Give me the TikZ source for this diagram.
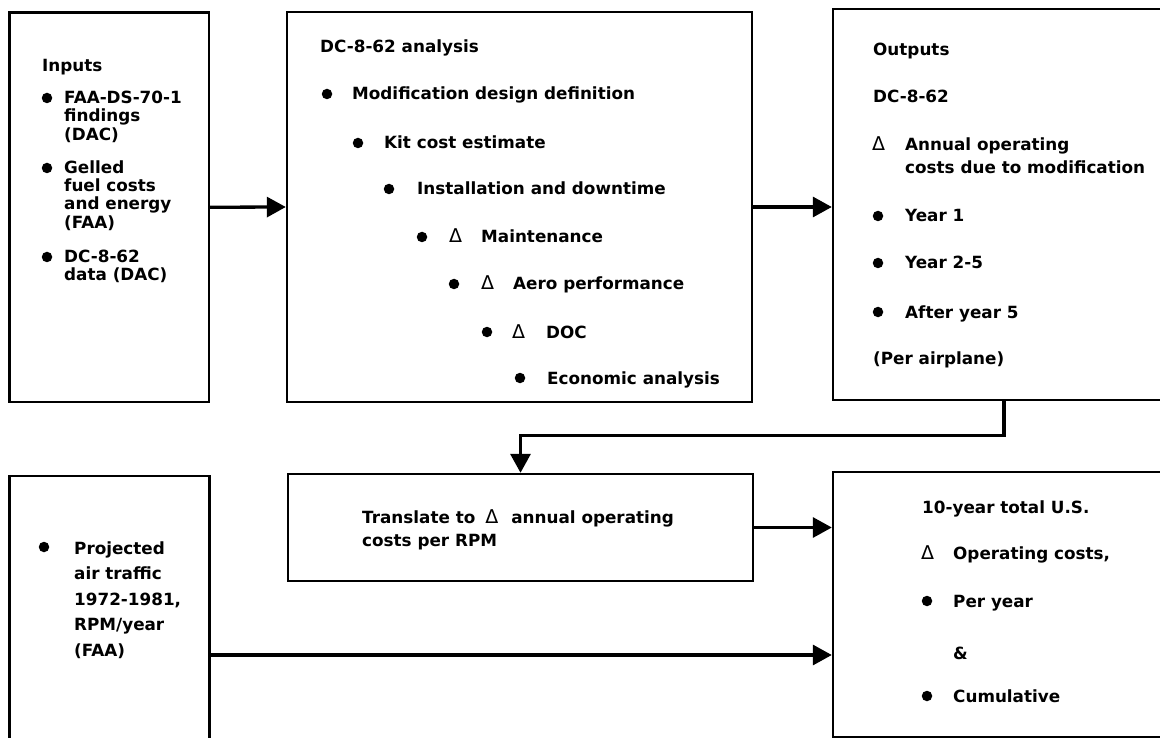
\documentclass[tikz,border=0pt]{standalone}
\usepackage{fontspec}
\setmainfont{DejaVu Sans}
\usetikzlibrary{arrows.meta}
\newcommand{\lblfont}{\bfseries\fontsize{16.8pt}{18pt}\selectfont}
\tikzset{
  box/.style={draw, line width=2.4pt, inner sep=0pt, fill=none},
  txt/.style={anchor=base west, inner sep=0pt, font=\lblfont},
  dl/.style={anchor=base west, inner sep=0pt, font=\mdseries\fontsize{19pt}{18pt}\selectfont},
  conn/.style={line width=3.3pt, -{Triangle[length=19pt,width=20pt]}},
  bul/.style={fill, circle, inner sep=0pt, minimum size=10.5pt}
}
\begin{document}
\begin{tikzpicture}[x=1pt,y=-1pt]
\useasboundingbox (0,0) rectangle (1160,738);
\fill[white] (0,0) rectangle (1160,738);
\clip (0,0) rectangle (1160,738);

% boxes
\node[box, minimum width=199.5pt, minimum height=389.5pt] (inp) at (109.25,207.25) {};
\node[box, minimum width=465pt, minimum height=390pt] (ana) at (519.5,207) {};
\node[box, minimum width=342pt, minimum height=391pt] (out) at (1004,204.5) {};
\node[box, minimum width=465pt, minimum height=107pt] (tra) at (520.5,527.5) {};
\node[box, minimum width=200pt, minimum height=284pt] (proj) at (109.5,618) {};
\node[box, minimum width=342pt, minimum height=265pt] (ten) at (1004,604.5) {};

% Inputs box text
\node[txt] (i0) at (42,72) {Inputs};
\node[bul] (ib1) at (47,98) {};
\node[txt] (i1) at (64,104) {FAA-DS-70-1};
\node[txt] (i2) at (64,122) {findings};
\node[txt] (i3) at (64,141) {(DAC)};
\node[bul] (ib2) at (47,168) {};
\node[txt] (i4) at (64,174) {Gelled};
\node[txt] (i5) at (64,192) {fuel costs};
\node[txt] (i6) at (64,210) {and energy};
\node[txt] (i7) at (64,229) {(FAA)};
\node[bul] (ib3) at (47,257) {};
\node[txt] (i8) at (64,263) {DC-8-62};
\node[txt] (i9) at (64,281) {data (DAC)};

% Analysis box text
\node[txt] (a0) at (320,53) {DC-8-62 analysis};
\node[bul] (ab1) at (327,94) {};
\node[txt] (a1) at (352,100) {Modification design definition};
\node[bul] (ab2) at (358,143) {};
\node[txt] (a2) at (384,149) {Kit cost estimate};
\node[bul] (ab3) at (389,189) {};
\node[txt] (a3) at (417,195) {Installation and downtime};
\node[bul] (ab4) at (422,237) {};
\node[dl] (ad4) at (449,243) {Δ};
\node[txt] (a4) at (481,243) {Maintenance};
\node[bul] (ab5) at (454,284) {};
\node[dl] (ad5) at (481,290) {Δ};
\node[txt] (a5) at (513,290) {Aero performance};
\node[bul] (ab6) at (487,332) {};
\node[dl] (ad6) at (512,338) {Δ};
\node[txt] (a6) at (546,338) {DOC};
\node[bul] (ab7) at (520,378) {};
\node[txt] (a7) at (547,384) {Economic analysis};

% Outputs box text
\node[txt] (o0) at (873,56) {Outputs};
\node[txt] (o1) at (873,103) {DC-8-62};
\node[dl] (od2) at (872,151) {Δ};
\node[txt] (o2) at (905,151) {Annual operating};
\node[txt] (o3) at (905,174) {costs due to modification};
\node[bul] (ob4) at (878,216) {};
\node[txt] (o4) at (905,222) {Year 1};
\node[bul] (ob5) at (878,263) {};
\node[txt] (o5) at (905,269) {Year 2-5};
\node[bul] (ob6) at (878,312) {};
\node[txt] (o6) at (905,318) {After year 5};
\node[txt] (o7) at (873,364) {(Per airplane)};

% Translate box text
\node[txt] (t0) at (362,523) {Translate to\hspace{10pt}{\mdseries\fontsize{19pt}{18pt}\selectfont Δ}\hspace{13pt}annual operating};
\node[txt] (t1) at (362,546) {costs per RPM};

% Projected box text
\node[bul] (pb) at (44,547) {};
\node[txt] (p0) at (74,554) {Projected};
\node[txt] (p1) at (74,579) {air traffic};
\node[txt] (p2) at (74,605) {1972-1981,};
\node[txt] (p3) at (74,630) {RPM/year};
\node[txt] (p4) at (74,656) {(FAA)};

% Ten-year box text
\node[txt] (n0) at (922,513) {10-year total U.S.};
\node[dl] (nd1) at (921,559) {Δ};
\node[txt] (n1) at (953,559) {Operating costs,};
\node[bul] (nb2) at (927,601) {};
\node[txt] (n2) at (953,607) {Per year};
\node[txt] (n3) at (953,659) {\&};
\node[bul] (nb4) at (927,696) {};
\node[txt] (n4) at (953,702) {Cumulative};

% connectors
\coordinate (pa) at (200,655);
\draw[conn] (inp.east) -- (ana.west);
\draw[conn] (ana.east) -- (ana.east -| out.west);
\draw[conn] (out.south) -- ++(0,34) -| (tra.north);
\draw[conn] (tra.east) -- (tra.east -| ten.west);
\draw[conn] (proj.east |- pa) -- (ten.west |- pa);
\end{tikzpicture}
\end{document}
